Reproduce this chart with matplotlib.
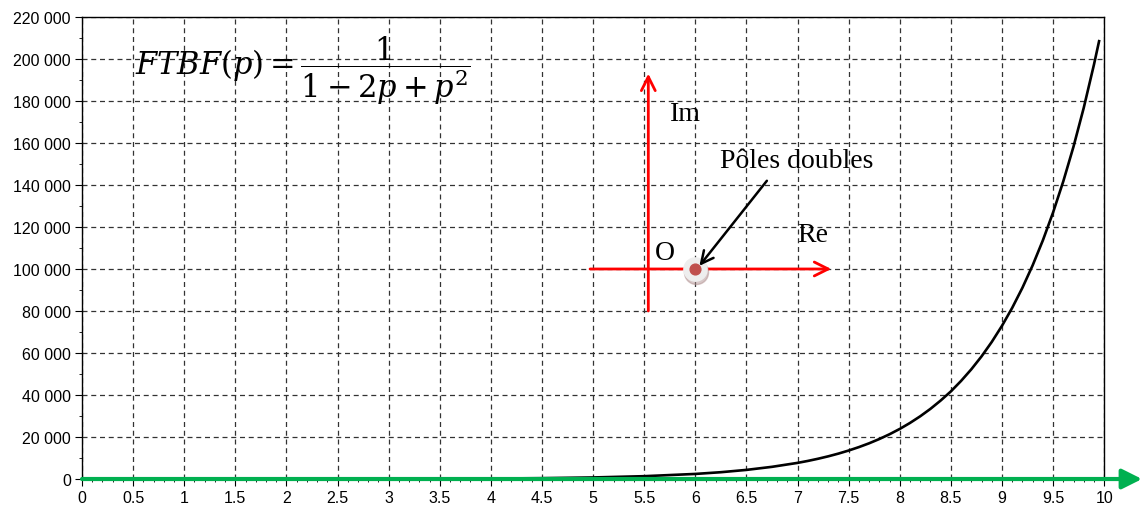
import matplotlib.pyplot as plt
from matplotlib.ticker import MultipleLocator

# impulse response
t = [0, 0.5, 1, 1.5, 2, 2.5, 3, 3.5, 4, 4.5, 5, 5.5, 6, 6.25, 6.5, 6.75,
     7, 7.1, 7.2, 7.3, 7.4, 7.5, 7.6, 7.7, 7.8, 7.9,
     8, 8.1, 8.2, 8.3, 8.4, 8.5, 8.6, 8.7, 8.8, 8.9,
     9, 9.1, 9.2, 9.3, 9.4, 9.5, 9.6, 9.7, 9.8, 9.9, 9.95]
s = [0, 1, 3, 7, 15, 30, 60, 116, 218, 405, 742, 1345, 2420, 3240, 4340, 5800,
     7680, 8600, 9640, 10800, 12100, 13560, 15190, 17000, 19040, 21310,
     23850, 26690, 29860, 33400, 37360, 41710, 46710, 52230, 58380, 65260,
     72930, 81490, 91050, 101720, 113630, 126920, 141750, 158290, 176740,
     197320, 208470]

x_ticks = [i * 0.5 for i in range(21)]
x_labels = ['0', '0.5', '1', '1.5', '2', '2.5', '3', '3.5', '4', '4.5', '5',
            '5.5', '6', '6.5', '7', '7.5', '8', '8.5', '9', '9.5', '10']
y_ticks = list(range(0, 220001, 20000))
y_labels = ['0', '20 000', '40 000', '60 000', '80 000', '100 000', '120 000',
            '140 000', '160 000', '180 000', '200 000', '220 000']

plt.rcParams['font.family'] = ['Liberation Sans', 'DejaVu Sans']
plt.rcParams['mathtext.fontset'] = 'dejavuserif'

fig = plt.figure(figsize=(11.44, 5.10), dpi=100)
ax = fig.add_axes([0.0717, 0.0588, 0.8935, 0.906])

ax.plot(t, s, color='black', lw=1.9, zorder=3)

ax.set_xlim(0, 10)
ax.set_ylim(0, 220000)
ax.set_xticks(x_ticks)
ax.set_xticklabels(x_labels)
ax.set_yticks(y_ticks)
ax.set_yticklabels(y_labels)
ax.xaxis.set_minor_locator(MultipleLocator(0.1))
ax.yaxis.set_minor_locator(MultipleLocator(10000))
ax.tick_params(which='major', direction='out', length=5, labelsize=11.5, pad=3)
ax.tick_params(which='minor', direction='out', length=2.5)
ax.grid(True, which='major', color='#333333', ls=(0, (4, 3)), lw=0.9)
for sp in ax.spines.values():
    sp.set_linewidth(1)

# green time axis arrow
ax.annotate('', xy=(10.37, 0), xytext=(0, 0), annotation_clip=False,
            arrowprops=dict(arrowstyle='-|>', color='#00b050', lw=3,
                            mutation_scale=30, shrinkA=0, shrinkB=0), zorder=4)

# complex plane sketch
red = '#ff0000'
ax.annotate('', xy=(5.54, 193000), xytext=(5.54, 80000),
            arrowprops=dict(arrowstyle='->', color=red, lw=2,
                            mutation_scale=25, shrinkA=0, shrinkB=0))
ax.annotate('', xy=(7.33, 100000), xytext=(4.97, 100000),
            arrowprops=dict(arrowstyle='->', color=red, lw=2,
                            mutation_scale=25, shrinkA=0, shrinkB=0))
ax.scatter([6.01], [98500], s=300, color='#b09090', alpha=0.5, zorder=5)
ax.scatter([6.0], [100000], s=280, color='#eeeeee', zorder=5)
ax.scatter([6.0], [100000], s=60, color='#c0504d', zorder=6)
ax.annotate('', xy=(6.04, 101500), xytext=(6.7, 142000),
            arrowprops=dict(arrowstyle='->', color='black', lw=1.8,
                            mutation_scale=22, shrinkA=0, shrinkB=0), zorder=7)

serif = ['Liberation Serif', 'DejaVu Serif']
ax.text(5.75, 174000, 'Im', family=serif, fontsize=20, ha='left', va='center')
ax.text(7.0, 116500, 'Re', family=serif, fontsize=20, ha='left', va='center')
ax.text(5.6, 108000, 'O', family=serif, fontsize=20, ha='left', va='center')
ax.text(6.24, 151500, 'Pôles doubles', family=serif, fontsize=20,
        ha='left', va='center')

ax.text(0.52, 195000, r'$FTBF(p) = \dfrac{1}{1 - 2p + p^2}$', fontsize=22,
        ha='left', va='center')

fig.savefig('out.png', dpi=100)
